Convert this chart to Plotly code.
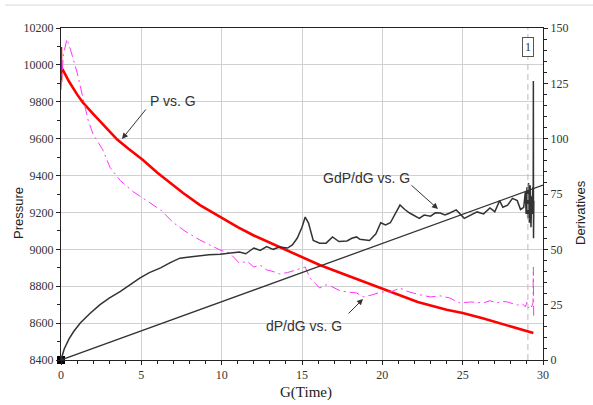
import plotly.graph_objects as go

# ---- data ----
g_p = [0, 0, 0.02, 0.1, 0.5, 1.0, 1.37, 2.0, 2.86, 3.5, 4.2, 5.1, 6.0, 7.0, 7.6, 8.65, 9.9, 11.0, 12.0,
       13.6, 15.0, 16.1, 17.0, 18.4, 20.0, 21.0, 22.2, 24.0, 25.0, 26.3, 28.0, 29.4]
p_vals = [10097, 9907, 9985, 9975, 9910, 9840, 9795, 9735, 9658, 9595, 9545, 9484, 9415, 9348, 9305, 9240,
          9175, 9120, 9075, 9013, 8960, 8915, 8885, 8840, 8785, 8755, 8715, 8672, 8655, 8625, 8580, 8546]

g_gdp = [0, 0.2, 0.5, 0.8, 1.2, 1.8, 2.43, 3.0, 3.7, 4.3, 4.9, 5.5, 6.2, 6.8, 7.4, 8.0, 8.5, 9.2, 9.9, 10.5,
         11.1, 11.5, 12.0, 12.4, 12.8, 13.2, 13.6, 14.1, 14.4, 14.7, 15.0, 15.2, 15.4, 15.7, 16.1, 16.5, 16.9,
         17.3, 17.8, 18.1, 18.4, 18.6, 19.2, 19.6, 19.9, 20.2, 20.5, 20.8, 21.1, 21.4, 21.7, 22.3, 22.6, 23.0,
         23.3, 23.6, 23.9, 24.2, 24.6, 25.1, 25.5, 25.9, 26.3, 26.7, 27.0, 27.3, 27.5, 27.8, 28.1, 28.4, 28.6,
         28.8, 28.9, 28.95, 29.0, 29.05, 29.1, 29.15, 29.2, 29.25, 29.3, 29.33, 29.36, 29.39, 29.4, 29.41, 29.43]
gdp_vals = [0, 5, 9.5, 13, 16.7, 21, 25, 28, 31, 34, 37, 39.5, 41.6, 44, 46, 46.5, 47, 47.5, 47.8, 48.3,
            48.8, 48.0, 50.6, 49.5, 51.2, 50.0, 51.0, 50.6, 52.0, 55, 60, 64.6, 62, 54, 52.8, 52.8, 55.6,
            53.5, 53.8, 55.0, 55.6, 54.5, 54, 57, 62, 61, 62, 66, 70, 68, 66.4, 64, 65.5, 65, 66.5, 66.4, 65.5,
            66.4, 67.8, 64, 65.5, 66.9, 66, 68.7, 67, 72, 69, 70, 73, 72, 68, 69, 76, 66, 78, 64, 80, 62, 79, 60,
            74, 66, 78, 70, 126, 55, 72]

g_dp = [0, 0.15, 0.37, 0.6, 1.0, 1.4, 1.7, 2.0, 2.6, 3.05, 3.7, 4.5, 5.5, 6.2, 7.0, 7.8, 8.65, 9.9, 10.5,
        11.1, 11.6, 12.0, 12.4, 12.8, 13.2, 13.6, 14.1, 14.7, 15.0, 15.2, 15.5, 16.1, 16.5, 16.9, 17.3, 17.8,
        18.4, 18.8, 19.4, 19.9, 20.5, 21.1, 21.4, 21.7, 22.3, 23.0, 23.6, 24.2, 24.8, 25.5, 26.3, 26.7, 27.1,
        27.5, 27.8, 28.1, 28.4, 28.7, 28.9, 29.0, 29.1, 29.2, 29.3, 29.38, 29.4, 29.42]
dp_vals = [122, 138, 145, 140, 130, 117, 108, 102, 95, 87, 81, 76, 71.4, 67.8, 62, 57.8, 54.2, 49.7, 48.3,
           43.8, 44.5, 42, 42.8, 40.7, 40.0, 38.9, 39.5, 40.7, 41.5, 42, 37, 32.5, 34, 33, 31.5, 30.7,
           30.3, 28.5, 29.5, 30.7, 30.7, 32.5, 31.5, 30.7, 29.5, 28.5, 29, 28, 25.8, 26.2, 25.8, 26.8, 25.8,
           26.5, 26.2, 25.5, 24.8, 25.5, 24, 26, 23.5, 25, 24, 26, 42, 20]

g_line = [0, 30]
line_vals = [0, 79]

fig = go.Figure()

fig.add_trace(go.Scatter(x=g_p, y=p_vals, mode="lines", line=dict(color="#ff0000", width=2.6),
                         yaxis="y", showlegend=False))
fig.add_trace(go.Scatter(x=g_dp, y=dp_vals, mode="lines",
                         line=dict(color="#ff33ff", width=1, dash="10px,4px,2px,4px"),
                         yaxis="y2", showlegend=False))
fig.add_trace(go.Scatter(x=g_line, y=line_vals, mode="lines", line=dict(color="#333333", width=1.3),
                         yaxis="y2", showlegend=False))
fig.add_trace(go.Scatter(x=g_gdp, y=gdp_vals, mode="lines", line=dict(color="#333333", width=1.5),
                         yaxis="y2", showlegend=False))
fig.add_trace(go.Scatter(x=[0], y=[8400], mode="markers", marker=dict(symbol="square", size=8, color="black"),
                         yaxis="y", showlegend=False, cliponaxis=False))

serif = "Liberation Serif"
sans = "Liberation Sans"
tickfont = dict(family=serif, size=12, color="#333333")
grid = "#d0d0d0"

fig.update_layout(
    width=593, height=405,
    margin=dict(l=61, r=50, t=28, b=45),
    paper_bgcolor="white", plot_bgcolor="white",
    font=dict(family=serif, size=12, color="#333333"),
    xaxis=dict(range=[0, 30], dtick=5, tickformat="d", showgrid=True, gridcolor=grid, gridwidth=1, zeroline=False,
               showline=True, linecolor="#222", linewidth=1, mirror=True,
               ticks="outside", ticklen=4, tickcolor="#222", tickfont=tickfont,
               minor=dict(dtick=1, ticks="outside", ticklen=3, tickcolor="#222", showgrid=False)),
    yaxis=dict(range=[8400, 10200], dtick=200, tickformat="d", showgrid=True, gridcolor=grid, gridwidth=1,
               zeroline=False, showline=True, linecolor="#222", linewidth=1,
               ticks="outside", ticklen=4, tickcolor="#222", tickfont=tickfont,
               minor=dict(dtick=100, ticks="outside", ticklen=3, tickcolor="#222", showgrid=False)),
    yaxis2=dict(range=[0, 150], dtick=25, tickformat="d", overlaying="y", side="right", showgrid=False,
                zeroline=False, showline=True, linecolor="#222", linewidth=1,
                ticks="outside", ticklen=4, tickcolor="#222", tickfont=tickfont,
                minor=dict(dtick=5, ticks="outside", ticklen=3, tickcolor="#222")),
)

# dashed vertical marker line and top separator
fig.add_shape(type="line", xref="x", yref="paper", x0=29.06, x1=29.06, y0=0, y1=1,
              line=dict(color="#bbbbbb", width=1, dash="6px,4px"))
fig.add_shape(type="line", xref="paper", yref="paper", x0=-0.116, x1=1.11, y0=1.069, y1=1.069,
              line=dict(color="#d8d8d8", width=1))


def px2x(px):
    return (px - 61) / 482


def py2y(py):
    return (360 - py) / 332


annots = [
    dict(text="Pressure", x=px2x(18), y=py2y(213), textangle=-90, font=dict(family=sans, size=13, color="#222")),
    dict(text="Derivatives", x=px2x(580), y=py2y(213), textangle=-90, font=dict(family=sans, size=13, color="#222")),
    dict(text="G(Time)", x=px2x(306), y=py2y(393), font=dict(family=serif, size=15, color="#222")),
    dict(text="P vs. G", x=px2x(173), y=py2y(101), font=dict(family=sans, size=14, color="#333")),
    dict(text="GdP/dG vs. G", x=px2x(366), y=py2y(178), font=dict(family=sans, size=14, color="#333")),
    dict(text="dP/dG vs. G", x=px2x(304), y=py2y(326), font=dict(family=sans, size=14, color="#333")),
    dict(text="1", x=px2x(528), y=py2y(47), font=dict(family=serif, size=12, color="#333"),
         bordercolor="#555", borderwidth=1, borderpad=2, bgcolor="white"),
]
for a in annots:
    fig.add_annotation(xref="paper", yref="paper", showarrow=False, xanchor="center", yanchor="middle", **a)

# arrows: tip (px,py), tail (px,py)
arrows = [((122, 139), (147, 108)), ((438, 209), (410, 184)), ((363, 299), (347, 315))]
for (tx, ty), (sx, sy) in arrows:
    fig.add_annotation(xref="paper", yref="paper", x=px2x(tx), y=py2y(ty), text="", showarrow=True,
                       ax=sx - tx, ay=sy - ty, arrowhead=2, arrowsize=1.2, arrowwidth=1, arrowcolor="#333")

fig.write_html("out.html")
